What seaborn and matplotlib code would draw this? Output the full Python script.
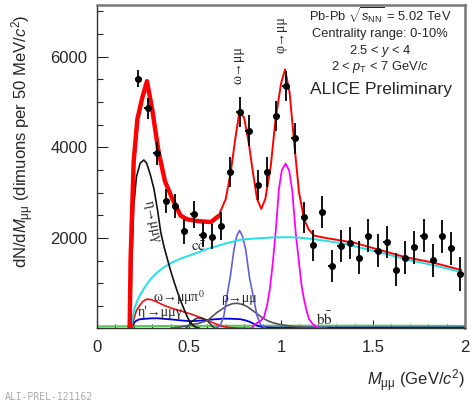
import numpy as np
import pandas as pd
import matplotlib
matplotlib.use("Agg")
import matplotlib.pyplot as plt
import seaborn as sns

# data points (dimuons per 50 MeV/c2)
mass = np.arange(0.225, 2.0, 0.05)
counts = [5520, 4860, 3870, 2815, 2705, 2150, 2520, 2065, 2025, 2260, 3455,
          4775, 4370, 3175, 3450, 4685, 5360, 4200, 2455, 1835, 2570,
          1385, 1815, 1885, 1565, 2050, 1715, 1905, 1300, 1565, 1790, 2050, 1510, 2035, 1770, 1205]
errors = [185, 240, 250, 260, 260, 275, 295, 275, 275, 315, 330,
          330, 335, 335, 335, 335, 335, 340, 340, 340, 345,
          355, 355, 355, 360, 360, 360, 360, 360, 365, 365, 365, 365, 370, 370, 370]

# total fit
tot_x = [0.178, 0.183, 0.20, 0.22, 0.245, 0.272, 0.30, 0.335, 0.37, 0.41, 0.455, 0.49, 0.55, 0.62,
         0.66, 0.70, 0.727, 0.754, 0.775, 0.80, 0.825, 0.845, 0.87, 0.893, 0.915, 0.945, 0.97, 1.0,
         1.022, 1.047, 1.07, 1.098, 1.125, 1.15, 1.18, 1.24, 1.3, 1.4, 1.53, 1.68, 1.82, 1.98]
tot_y = [0, 1500, 3700, 4620, 5070, 5460, 4850, 3900, 3250, 2860, 2490, 2410, 2370, 2350,
         2480, 2860, 3450, 4250, 4800, 4650, 4100, 3520, 2860, 2640, 2860, 3600, 4600, 5400,
         5720, 5210, 4180, 3010, 2420, 2190, 2050, 2000, 1960, 1890, 1740, 1570, 1460, 1290]

# eta -> mu mu gamma
eta_x = [0.182, 0.19, 0.20, 0.215, 0.235, 0.255, 0.27, 0.29, 0.31, 0.33, 0.347, 0.365, 0.383,
         0.40, 0.42, 0.44, 0.46, 0.48, 0.495, 0.51, 0.53, 0.56]
eta_y = [0, 1500, 2700, 3350, 3650, 3720, 3650, 3400, 3080, 2600, 2120, 1800, 1530,
         1280, 1020, 780, 560, 360, 220, 120, 40, 0]

# open charm
cc_x = [0.183, 0.195, 0.205, 0.22, 0.24, 0.265, 0.29, 0.32, 0.36, 0.41, 0.46, 0.51, 0.60, 0.69,
        0.78, 0.87, 0.96, 1.05, 1.1, 1.17, 1.26, 1.35, 1.44, 1.53, 1.62, 1.71, 1.80, 1.86, 1.97]
cc_y = [0, 250, 450, 620, 780, 940, 1080, 1210, 1340, 1460, 1550, 1620, 1755, 1865,
        1960, 1990, 2010, 2015, 2005, 1976, 1925, 1865, 1775, 1682, 1590, 1497, 1420, 1364, 1254]

# omega -> mu mu
om_x = [0.64, 0.67, 0.69, 0.71, 0.725, 0.745, 0.76, 0.775, 0.79, 0.808, 0.83, 0.845, 0.87, 0.89, 0.92]
om_y = [0, 60, 280, 800, 1150, 1750, 2050, 2160, 2050, 1750, 1100, 800, 280, 80, 0]

# phi -> mu mu
phi_x = [0.84, 0.862, 0.89, 0.908, 0.925, 0.94, 0.955, 0.971, 0.989, 1.005, 1.025, 1.045, 1.061,
         1.08, 1.098, 1.112, 1.125, 1.14, 1.152, 1.17, 1.19, 1.22]
phi_y = [0, 100, 170, 250, 520, 880, 1420, 2120, 3080, 3500, 3640, 3480, 3050,
         2120, 1450, 950, 650, 380, 210, 110, 40, 0]

# rho -> mu mu
rho_x = [0.40, 0.45, 0.49, 0.55, 0.60, 0.654, 0.708, 0.735, 0.762, 0.79, 0.817, 0.845, 0.871,
         0.90, 0.926, 0.96, 0.998, 1.07, 1.15, 1.25]
rho_y = [0, 30, 62, 110, 172, 357, 503, 545, 556, 530, 481, 400, 320,
         230, 172, 120, 84, 40, 20, 10]

# omega -> mu mu pi0
omd_x = [0.19, 0.20, 0.215, 0.228, 0.25, 0.273, 0.30, 0.328, 0.37, 0.418, 0.46, 0.509, 0.55,
         0.582, 0.61, 0.636, 0.672, 0.70, 0.75, 0.85]
omd_y = [0, 200, 400, 480, 600, 650, 630, 580, 500, 430, 380, 320, 260,
         210, 160, 115, 60, 30, 10, 0]

# eta' -> mu mu gamma
etap_x = [0.19, 0.20, 0.21, 0.23, 0.255, 0.29, 0.328, 0.37, 0.418, 0.46, 0.509, 0.55, 0.60, 0.65,
          0.69, 0.74, 0.781, 0.81, 0.835, 0.855, 0.871, 0.90, 0.95, 1.0, 1.5, 2.0]
etap_y = [0, 110, 160, 200, 210, 222, 225, 210, 194, 175, 160, 170, 188, 205,
          216, 212, 203, 175, 137, 95, 62, 30, 20, 20, 20, 20]

# eta -> mu mu
e2_x = [0.48, 0.50, 0.52, 0.545, 0.57, 0.60, 0.62, 0.64]
e2_y = [0, 60, 170, 230, 230, 170, 80, 0]

# open beauty
bb_x = [0.0, 0.5, 1.0, 1.5, 2.0]
bb_y = [45, 55, 60, 60, 55]

sns.set_style("ticks")
plt.rcParams['font.family'] = ['Liberation Sans', 'DejaVu Sans']
plt.rcParams['mathtext.fontset'] = 'custom'
plt.rcParams['mathtext.rm'] = 'Liberation Sans'
plt.rcParams['mathtext.it'] = 'Liberation Sans:italic'

fig = plt.figure(figsize=(4.75, 4.09), dpi=100)
ax = fig.add_axes([0.204, 0.197, 0.775, 0.7915])

def curve(x, y, color, lw=1.2):
    sns.lineplot(x=x, y=y, color=color, lw=lw, sort=False, estimator=None, ax=ax)

curve(bb_x, bb_y, '#55c855', 1.5)
curve(etap_x, etap_y, '#0000e6', 1.3)
curve(omd_x, omd_y, '#ee1111', 1.2)
curve(e2_x, e2_y, '#222222', 1.0)
curve(rho_x, rho_y, '#555555', 1.2)
curve(om_x, om_y, '#6060d8', 1.2)
curve(phi_x, phi_y, '#ff00ff', 1.3)
curve(cc_x, cc_y, '#22e0e8', 1.4)
curve(eta_x, eta_y, '#111111', 1.2)
curve(tot_x, tot_y, '#ff0000', 1.4)
band = [i for i, v in enumerate(tot_x) if v <= 0.66]
curve([tot_x[i] for i in band], [tot_y[i] for i in band], '#ff0000', 3.2)

ax.errorbar(mass, counts, yerr=errors, xerr=0.018, fmt='o', color='black',
            ms=4, elinewidth=1.3, capsize=0, zorder=10)

ax.set_xlim(0, 2)
ax.set_ylim(0, 7150)
ax.set_xticks([0, 0.5, 1, 1.5, 2])
ax.set_xticklabels(['0', '0.5', '1', '1.5', '2'])
ax.set_yticks([2000, 4000, 6000])
ax.set_xticks(np.arange(0, 2.01, 0.1), minor=True)
ax.set_yticks(np.arange(0, 7150, 500), minor=True)
ax.tick_params(axis='x', which='major', direction='in', length=6, width=0.8, labelsize=12, pad=8)
ax.tick_params(axis='x', which='minor', direction='in', length=3, width=0.8)
ax.tick_params(axis='y', which='major', direction='in', length=8, width=0.8, labelsize=12, pad=7)
ax.tick_params(axis='y', which='minor', direction='in', length=4, width=0.8)
for s in ['left', 'bottom']:
    ax.spines[s].set_color('#333333')
    ax.spines[s].set_linewidth(1.0)
for s in ['top', 'right']:
    ax.spines[s].set_color('#777777')
    ax.spines[s].set_linewidth(1.8)

ax.set_ylabel(r"dN/d$M_{\mathrm{\mu\mu}}$ (dimuons per 50 MeV/$c^2$)", fontsize=12, loc='top')
ax.yaxis.set_label_coords(-0.165, 0.97)
ax.set_xlabel(r"$M_{\mathrm{\mu\mu}}$ (GeV/$c^2$)", fontsize=12, loc='right')
ax.xaxis.set_label_coords(1.0, -0.12)

info = [r"Pb-Pb $\sqrt{s_{\mathrm{NN}}}$ = 5.02 TeV", "Centrality range: 0-10%",
        r"2.5 < $y$ < 4", r"2 < $p_{\mathrm{T}}$ < 7 GeV/$c$"]
for txt, yy in zip(info, [0.965, 0.909, 0.858, 0.809]):
    ax.text(0.769, yy, txt, transform=ax.transAxes, ha='center', va='center', fontsize=9.3)
ax.text(0.772, 0.739, "ALICE Preliminary", transform=ax.transAxes, ha='center', va='center', fontsize=12.5)

serif = ['Liberation Serif', 'DejaVu Serif']
ax.text(0.30, 2350, "η→μμγ", rotation=-79, ha='center', va='center', fontsize=10,
        family=serif, rotation_mode='anchor')
ax.text(0.555, 1790, r"$\mathrm{c\bar{c}}$", ha='center', va='center', fontsize=11, math_fontfamily='stix')
ax.text(0.445, 690, "ω→μμπ$^{0}$", ha='center', va='center', fontsize=10, family=serif, math_fontfamily='stix')
ax.text(0.345, 360, "η'→μμγ", ha='center', va='center', fontsize=10, family=serif)
ax.text(0.772, 651, "ρ→μμ", ha='center', va='center', fontsize=10, family=serif)
ax.text(1.234, 210, r"$\mathrm{b\bar{b}}$", ha='center', va='center', fontsize=11, math_fontfamily='stix')
ax.text(0.768, 5816, "ω→μμ", rotation=90, ha='center', va='center', fontsize=10, family=serif)
ax.text(0.998, 6480, "φ→μμ", rotation=90, ha='center', va='center', fontsize=10, family=serif)

fig.text(0.01, 0.022, "ALI-PREL-121162", fontsize=7, color='#aaaaaa', family='DejaVu Sans Mono')

fig.savefig("out.png", dpi=100)
